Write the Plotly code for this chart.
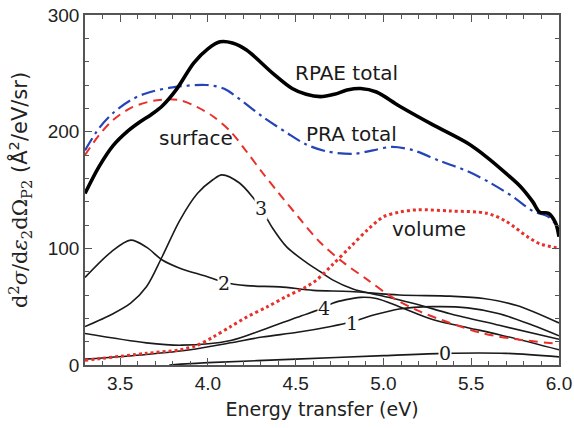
import plotly.graph_objects as go

# ---- data ----
rpae_x = [3.3, 3.38, 3.46, 3.54, 3.61, 3.68, 3.74, 3.82, 3.92, 4.0, 4.07, 4.14, 4.22, 4.37, 4.48, 4.56, 4.64, 4.72, 4.80, 4.87, 4.96, 5.09, 5.28, 5.48, 5.59, 5.70, 5.78, 5.85, 5.89, 5.94, 5.98, 6.0]
rpae_y = [147, 170, 188, 200, 208, 215, 222, 236, 259, 271, 277, 276, 270, 250, 237, 232, 230, 232, 236, 237, 234, 222, 206, 190, 178, 164, 153, 140, 131, 130, 122, 110]

pra_x = [3.3, 3.38, 3.46, 3.56, 3.65, 3.80, 3.99, 4.09, 4.18, 4.31, 4.45, 4.56, 4.68, 4.83, 4.94, 5.05, 5.17, 5.32, 5.48, 5.61, 5.74, 5.85, 5.94, 6.0]
pra_y = [184, 203, 216, 227, 233, 238, 240, 237, 228, 213, 199, 189, 183, 181, 184, 187, 184, 175, 166, 156, 144, 132, 127, 117]

surf_x = [3.3, 3.38, 3.46, 3.57, 3.71, 3.84, 3.94, 4.03, 4.13, 4.22, 4.31, 4.40, 4.52, 4.64, 4.77, 4.91, 5.04, 5.19, 5.38, 5.57, 5.76, 6.0]
surf_y = [180, 197, 210, 221, 227, 227, 221, 213, 200, 183, 165, 148, 126, 105, 88, 73, 59, 47, 36, 27, 22, 18]

vol_x = [3.3, 3.65, 3.84, 3.94, 4.03, 4.13, 4.22, 4.34, 4.45, 4.56, 4.62, 4.71, 4.81, 4.91, 5.0, 5.09, 5.19, 5.38, 5.59, 5.70, 5.82, 5.89, 6.0]
vol_y = [4, 10, 13, 17, 24, 33, 41, 50, 59, 67, 73, 86, 101, 116, 127, 131, 133, 132, 130, 123, 110, 104, 100]

c0_x = [3.78, 4.0, 4.5, 5.0, 5.35, 5.7, 6.0]
c0_y = [0, 2, 5, 8, 10, 10, 7]

c1_x = [3.3, 3.65, 3.9, 4.13, 4.31, 4.51, 4.70, 4.82, 4.95, 5.09, 5.28, 5.48, 5.66, 5.85, 6.0]
c1_y = [5, 9, 13, 19, 24, 28, 33, 37, 43, 48, 50, 49, 44, 34, 25]

c2_x = [3.3, 3.45, 3.56, 3.65, 3.74, 3.84, 3.99, 4.09, 4.22, 4.41, 4.60, 4.81, 5.09, 5.38, 5.57, 5.76, 6.0]
c2_y = [75, 97, 107, 101, 90, 83, 76, 71, 68, 67, 64, 63, 60, 59, 57, 51, 36]

c3_x = [3.3, 3.46, 3.56, 3.65, 3.74, 3.84, 3.94, 4.03, 4.08, 4.18, 4.26, 4.30, 4.37, 4.45, 4.56, 4.64, 4.71, 4.83, 5.0, 5.19, 5.38, 5.66, 6.0]
c3_y = [33, 44, 53, 67, 93, 124, 147, 159, 163, 156, 143, 135, 117, 101, 88, 80, 73, 65, 59, 52, 44, 34, 22]

c4_x = [3.3, 3.65, 3.85, 4.13, 4.31, 4.51, 4.66, 4.71, 4.87, 4.96, 5.09, 5.28, 5.48, 5.66, 6.0]
c4_y = [27, 19, 17, 21, 30, 41, 49, 53, 58, 57, 50, 39, 32, 26, 13]

text_labels = ["RPAE total", "PRA total", "surface", "volume"]
text_x = [4.79, 4.82, 3.93, 5.26]
text_y = [250, 198, 195, 117]

num_labels = ["0", "1", "2", "3", "4"]
num_x = [5.35, 4.82, 4.09, 4.30, 4.66]
num_y = [10, 36, 70, 135, 49]

# ---- figure ----
fig = go.Figure()
spl = dict(shape="spline", smoothing=0.9)

for cx, cy in [(c0_x, c0_y), (c1_x, c1_y), (c2_x, c2_y), (c3_x, c3_y), (c4_x, c4_y)]:
    fig.add_trace(go.Scatter(x=cx, y=cy, mode="lines",
                             line=dict(color="#1a1a1a", width=1.6, **spl)))

fig.add_trace(go.Scatter(x=vol_x, y=vol_y, mode="lines",
                         line=dict(color="#e8302a", width=3, dash="dot", **spl)))
fig.add_trace(go.Scatter(x=surf_x, y=surf_y, mode="lines",
                         line=dict(color="#e8302a", width=2, dash="9px,6px", **spl)))
fig.add_trace(go.Scatter(x=pra_x, y=pra_y, mode="lines",
                         line=dict(color="#2444b8", width=2.2, dash="14px,5px,3px,5px", **spl)))
fig.add_trace(go.Scatter(x=rpae_x, y=rpae_y, mode="lines",
                         line=dict(color="black", width=3.6, **spl)))

for t, x, y in zip(text_labels, text_x, text_y):
    fig.add_annotation(x=x, y=y, text=t, showarrow=False,
                       font=dict(family="DejaVu Sans", size=20, color="#1a1a1a"))

for t, x, y in zip(num_labels, num_x, num_y):
    fig.add_annotation(x=x, y=y, text=t, showarrow=False, bgcolor="white",
                       borderpad=0,
                       font=dict(family="DejaVu Serif", size=19, color="#1a1a1a"))

axis_common = dict(showline=True, linecolor="#555", linewidth=1.5, mirror="ticks",
                   ticks="inside", ticklen=7, tickwidth=1.2, tickcolor="#555",
                   showgrid=False, zeroline=False, automargin=False,
                   tickfont=dict(family="Liberation Sans", size=19, color="#222"))

fig.update_xaxes(range=[3.3, 6.0], dtick=0.5, tick0=3.5, tickformat=".1f",
                 minor=dict(dtick=0.1, ticks="inside", ticklen=4, tickcolor="#555", showgrid=False),
                 title=dict(text="Energy transfer (eV)", standoff=10,
                            font=dict(family="DejaVu Sans", size=19, color="#222")),
                 **axis_common)
fig.update_yaxes(range=[0, 300], dtick=100,
                 minor=dict(dtick=20, ticks="inside", ticklen=4, tickcolor="#555", showgrid=False),
                 title=dict(text='<span style="font-family:DejaVu Serif">d<sup>2</sup><i>σ</i>/d<i>ε</i><sub>2</sub>dΩ<sub>P2</sub></span> (Å<sup>2</sup>/eV/sr)',
                            standoff=14,
                            font=dict(family="DejaVu Sans", size=21, color="#222")),
                 **axis_common)

fig.update_layout(width=574, height=428, showlegend=False,
                  plot_bgcolor="white", paper_bgcolor="white",
                  margin=dict(l=85, r=15, t=15, b=63))

fig.write_html("out.html")
